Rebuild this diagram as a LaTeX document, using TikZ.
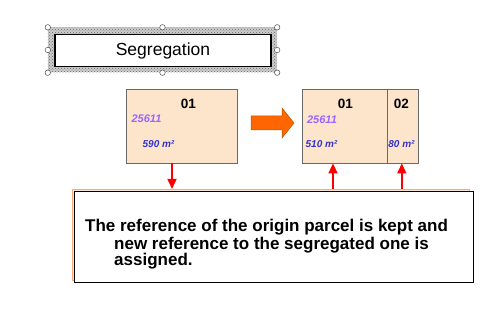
\documentclass[tikz,border=0pt]{standalone}
\usepackage{fontspec}
\setmainfont{Liberation Sans}
\usetikzlibrary{arrows.meta,patterns,positioning,calc}

\definecolor{parcelfill}{RGB}{253,229,204}
\definecolor{parcelline}{RGB}{105,105,105}
\definecolor{refcolor}{RGB}{153,102,255}
\definecolor{areacolor}{RGB}{51,51,204}
\definecolor{arroworange}{RGB}{255,102,0}
\definecolor{noteline}{RGB}{250,170,120}

\begin{document}
\begin{tikzpicture}[
    x=1pt, y=-1pt,
    parcel/.style={rectangle, draw=parcelline, fill=parcelfill, line width=0.8pt, inner sep=0pt, minimum height=74pt},
    num/.style={font=\fontsize{13.5}{15}\selectfont\bfseries, inner sep=0pt},
    ref/.style={text=refcolor, font=\fontsize{11}{13}\selectfont\bfseries\itshape, inner sep=0pt},
    area/.style={text=areacolor, font=\fontsize{10}{12}\selectfont\bfseries\itshape, inner sep=0pt},
    handle/.style={circle, draw=black!70, fill=white, inner sep=0pt, minimum size=5.5pt, line width=0.5pt},
    redarrow/.style={-{Triangle[width=9pt,length=10pt]}, red, line width=1.5pt}
]
    \useasboundingbox (0,0) rectangle (499,310);

    % title with selection frame
    \node[fill=black!20, minimum width=229pt, minimum height=45pt, inner sep=0pt] (frame) at (162.5,50) {};
    \fill[pattern=crosshatch dots, pattern color=black!60] (frame.north west) rectangle (frame.south east);
    \node[draw, fill=white, line width=1.3pt, minimum width=216pt, minimum height=32pt, font=\fontsize{17.5}{20}\selectfont] (title) at (163,50.5) {Segregation};
    \foreach \a [count=\i] in {north west, north, north east, east, south east, south, south west, west}
        \node[handle] (handle\i) at (frame.\a) {};

    % origin parcel
    \node[parcel, minimum width=111pt] (p1) at (181.5,126) {};
    \node[num] (p1num) at (188.5,103.5) {01};
    \node[ref] (p1ref) at (146.5,119) {25611};
    \node[area] (p1area) at (158.5,144) {590 m²};

    % segregated parcels
    \node[parcel, minimum width=85pt] (p2a) at (344.5,126) {};
    \node[parcel, minimum width=31pt, right=0pt of p2a] (p2b) {};
    \node[num] (p2anum) at (345.5,104) {01};
    \node[ref] (p2aref) at (322,119.5) {25611};
    \node[area] (p2aarea) at (321.5,144) {510 m²};
    \node[num] (p2bnum) at (401.5,104) {02};
    \node[area] (p2barea) at (401.5,144) {80 m²};

    \draw[draw=orange!70!black, fill=arroworange, line width=0.5pt]
        (251,116) -- (282,116) -- (282,108) -- (294,123) -- (282,138) -- (282,130) -- (251,130) -- cycle;

    % note
    \node[draw=noteline, fill=parcelfill, line width=0.8pt, minimum width=397pt, minimum height=91pt, anchor=north west, inner sep=0pt] (noteback) at (72,189) {};
    \node[draw, fill=white, line width=1pt, minimum width=399pt, minimum height=91pt, anchor=north west, inner sep=0pt] (note) at (74,191) {};
    \node[anchor=base west, align=left, inner sep=0pt, font=\fontsize{17}{17}\selectfont\bfseries] (notetext) at (85,266)
        {The reference of the origin parcel is kept and\\\hspace*{29pt}new reference to the segregated one is\\\hspace*{29pt}assigned.};

    \draw[redarrow] ([xshift=-9.5pt]p1.south) -- ([xshift=-9.5pt]p1.south |- noteback.north);
    \draw[redarrow] ([xshift=-11.5pt]p2a.south |- noteback.north) -- ([xshift=-11.5pt]p2a.south);
    \draw[redarrow] ([xshift=-1.5pt]p2b.south |- noteback.north) -- ([xshift=-1.5pt]p2b.south);
\end{tikzpicture}
\end{document}
